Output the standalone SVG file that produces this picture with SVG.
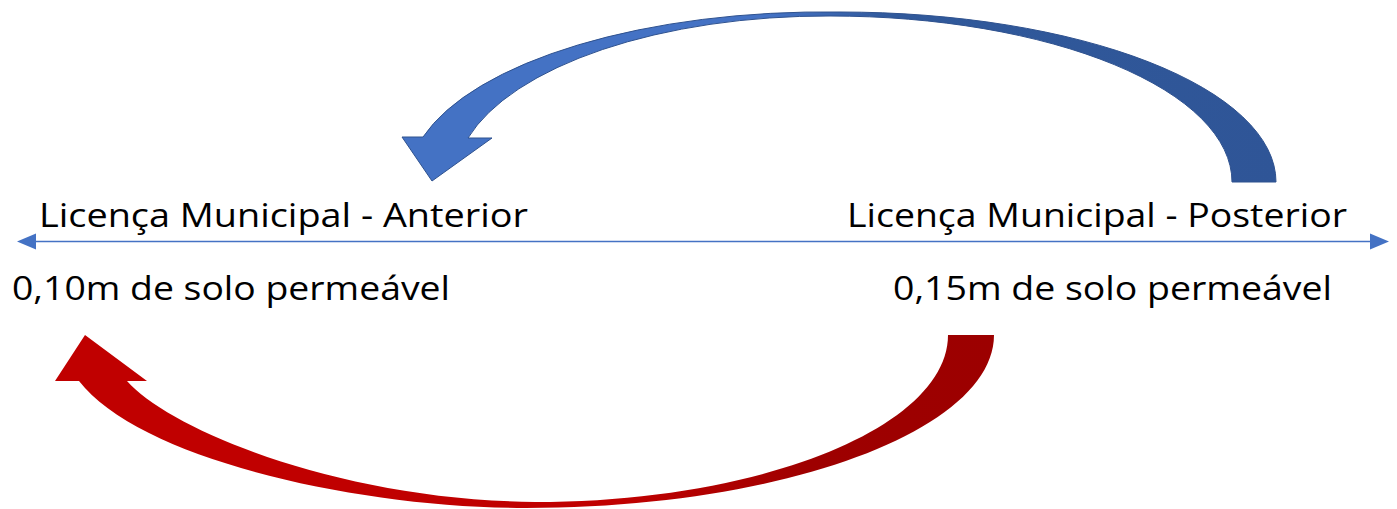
<svg xmlns="http://www.w3.org/2000/svg" width="1397" height="509" viewBox="0 0 1397 509">
  <style>
    .lbl { font-family: "Open Sans", "Liberation Sans", sans-serif; font-size: 33px; fill: #000000; }
    .axis { stroke: #4472C4; stroke-width: 1.6; fill: none; }
    .axhead { fill: #4472C4; }
  </style>
  <defs>
    <linearGradient id="gBlue" gradientUnits="userSpaceOnUse" x1="400" y1="0" x2="1280" y2="0">
      <stop offset="0" stop-color="#4472C4"/>
      <stop offset="0.42" stop-color="#4472C4"/>
      <stop offset="0.56" stop-color="#30599B"/>
      <stop offset="1" stop-color="#2F5597"/>
    </linearGradient>
    <linearGradient id="gRed" gradientUnits="userSpaceOnUse" x1="50" y1="0" x2="1000" y2="0">
      <stop offset="0" stop-color="#C00000"/>
      <stop offset="0.6" stop-color="#C00000"/>
      <stop offset="0.8" stop-color="#9E0000"/>
      <stop offset="1" stop-color="#9C0000"/>
    </linearGradient>
  </defs>

  <g id="blue-arrow">
    <path d="M 1276 182 A 436 170 0 0 0 840 12 A 417 170 0 0 0 423 137 L 402 137 L 432 181 L 492 138 L 468 138 A 372 166 0 0 1 830 16 A 402 166 0 0 1 1232 182 Z" fill="url(#gBlue)" stroke="#2F528F" stroke-width="1" stroke-linejoin="miter"/>
  </g>

  <g id="red-arrow">
    <path d="M 994 335 C 994 430 784 508 526 508 C 360 508 140 460 79 381 L 55 381 L 85 335 L 147 381 L 127 381 C 170 430 340 500 535 502 C 761 502 948 427 948 335 Z" fill="url(#gRed)"/>
  </g>

  <g id="connectors">
    <line class="axis" x1="34" y1="241.5" x2="1372" y2="241.5"/>
    <polygon class="axhead" points="17,241.5 36,233.5 36,249.5"/>
    <polygon class="axhead" points="1389,241.5 1370,233.5 1370,249.5"/>
  </g>

  <g id="node-anterior">
    <text class="lbl" x="39" y="227" textLength="489" lengthAdjust="spacingAndGlyphs">Licença Municipal - Anterior</text>
    <text class="lbl" x="12" y="300" textLength="438" lengthAdjust="spacingAndGlyphs">0,10m de solo permeável</text>
  </g>

  <g id="node-posterior">
    <text class="lbl" x="847" y="227" textLength="500" lengthAdjust="spacingAndGlyphs">Licença Municipal - Posterior</text>
    <text class="lbl" x="893" y="300" textLength="439" lengthAdjust="spacingAndGlyphs">0,15m de solo permeável</text>
  </g>
</svg>
